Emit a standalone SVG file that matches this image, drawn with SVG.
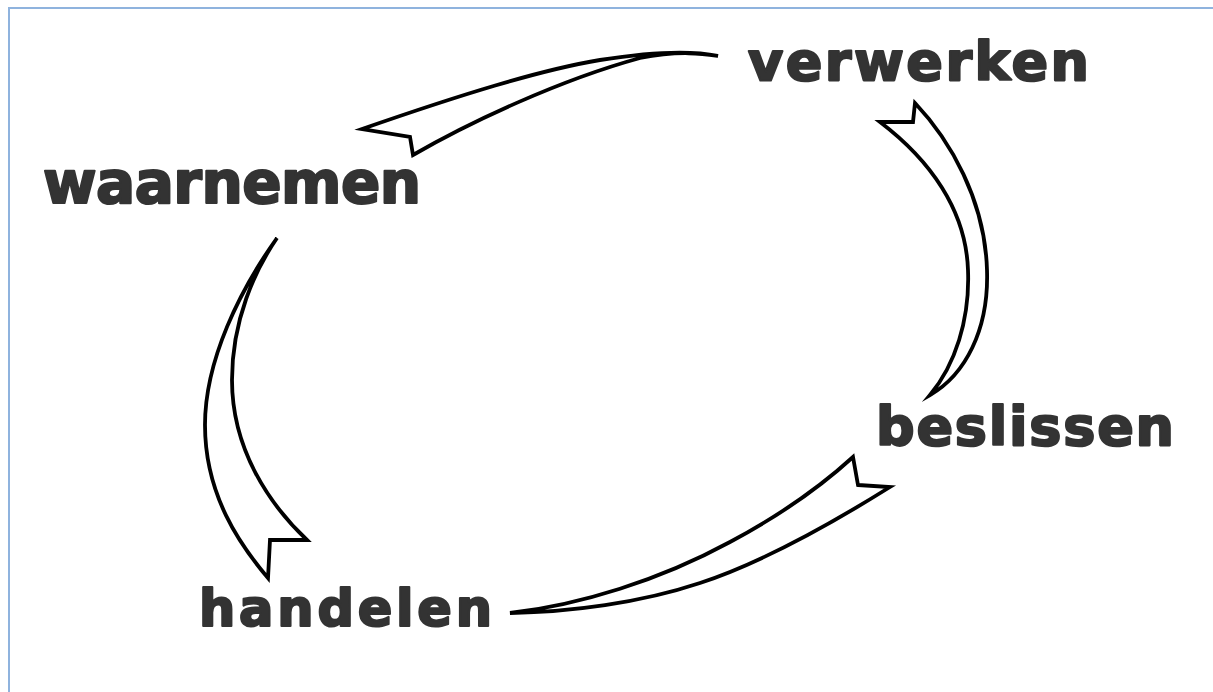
<svg xmlns="http://www.w3.org/2000/svg" width="1213" height="692" viewBox="0 0 1213 692">
  <style>
    .lbl { font-family: "DejaVu Sans", "Liberation Sans", Arial, sans-serif; font-weight: bold; fill: #333333; stroke: #333333; stroke-width: 2.2; stroke-linejoin: round; }
    .arrow { fill: #ffffff; stroke: #000000; stroke-width: 3.8; stroke-linejoin: miter; stroke-miterlimit: 6; }
    .frame { stroke: #8fb3de; stroke-width: 2; fill: none; }
  </style>
  <rect x="0" y="0" width="1213" height="692" fill="#ffffff"/>
  <path class="frame" d="M9,692 L9,8 L1213,8"/>

  <g id="connectors">
    <path class="arrow" d="M718,56 C690,50 650,52 600,60 C540,70 460,95 362,129 L410,137 L413,155 C470,122 560,80 640,58 C680,50 705,54 718,56 Z"/>
    <path class="arrow" d="M915,103 C950,140 985,200 987,270 C989,330 965,375 930,395 C955,365 970,320 968,270 C966,210 930,160 880,122 L913,122 Z"/>
    <path class="arrow" d="M858,485 L890,487 C850,512 770,560 700,583 C640,603 570,612 510,613 C580,605 660,580 730,542 C790,510 830,478 853,457 Z"/>
    <path class="arrow" d="M277,238 C240,290 205,360 205,425 C205,495 240,545 268,578 L270,540 L307,540 C270,505 232,450 232,380 C232,320 255,270 277,238 Z"/>
  </g>

  <g id="node-verwerken">
    <text class="lbl" x="748" y="80" font-size="54" textLength="341" lengthAdjust="spacing">verwerken</text>
  </g>
  <g id="node-waarnemen">
    <text class="lbl" x="43" y="203" font-size="58" textLength="378" lengthAdjust="spacing">waarnemen</text>
  </g>
  <g id="node-beslissen">
    <text class="lbl" x="876" y="445" font-size="54" textLength="298" lengthAdjust="spacing">beslissen</text>
  </g>
  <g id="node-handelen">
    <text class="lbl" x="199" y="626" font-size="51" textLength="293" lengthAdjust="spacing">handelen</text>
  </g>
</svg>
